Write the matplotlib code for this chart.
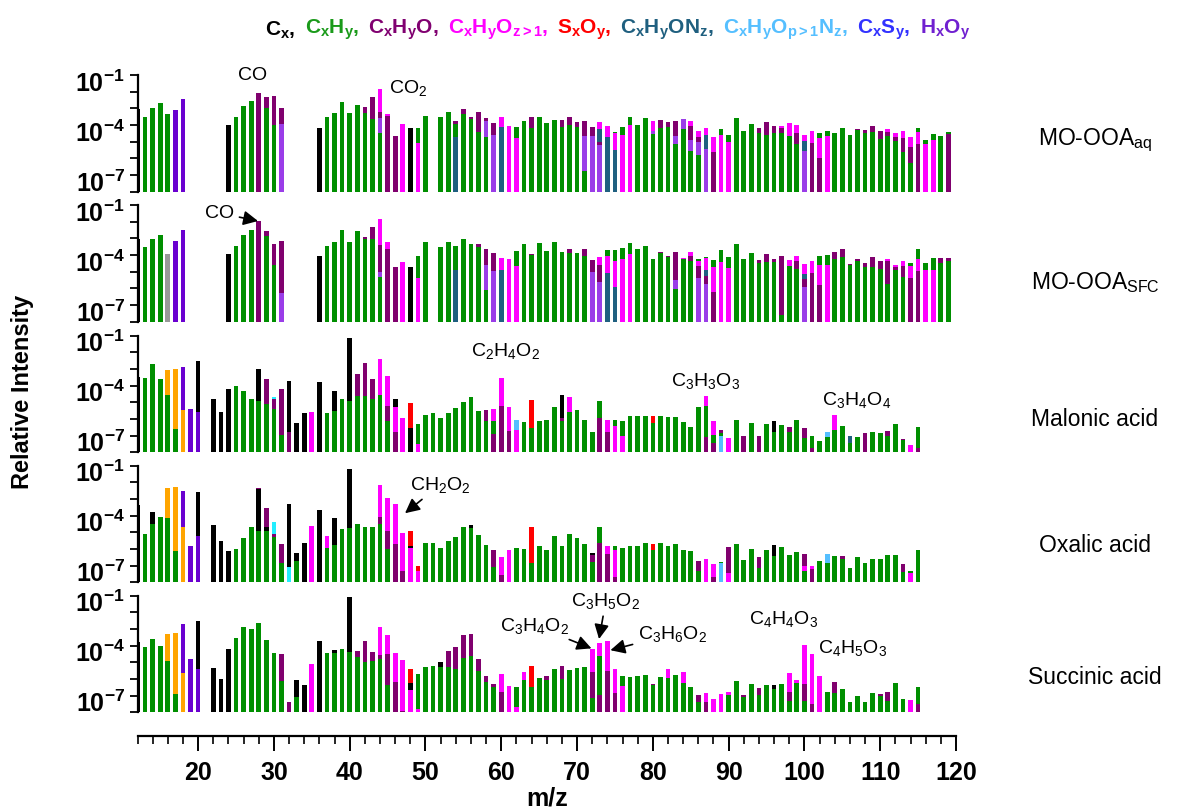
import matplotlib
matplotlib.use("Agg")
import matplotlib.pyplot as plt
import numpy as np

plt.rcParams['font.family'] = ['Liberation Sans', 'DejaVu Sans']
plt.rcParams['mathtext.fontset'] = 'custom'
plt.rcParams['mathtext.rm'] = 'Liberation Sans'
plt.rcParams['mathtext.it'] = 'Liberation Sans:italic'
plt.rcParams['mathtext.bf'] = 'Liberation Sans:bold'

# family colours
fam_colors = {
    'K': '#000000',   # Cx
    'G': '#008f00',   # CxHy
    'P': '#80006e',   # CxHyO
    'M': '#ff00ff',   # CxHyOz>1
    'R': '#ff0000',   # SxOy
    'T': '#1f6080',   # CxHyONz
    'L': '#55bfff',   # CxHyOp>1Nz
    'B': '#3333ff',   # CxSy
    'V': '#6a00d0',   # HxOy
    'U': '#9a3de8',   # (medium purple)
    'O': '#ffa500',   # (orange)
    'Y': '#999999',   # (grey)
    'C': '#22eeff',   # (cyan)
}

legend_items = [
    (r'$\mathbf{C_x,}$', '#000000'),
    (r'$\mathbf{C_xH_y,}$', '#1a9a1a'),
    (r'$\mathbf{C_xH_yO,}$', '#800070'),
    (r'$\mathbf{C_xH_yO_{z>1},}$', '#ff00ff'),
    (r'$\mathbf{S_xO_y,}$', '#ff0000'),
    (r'$\mathbf{C_xH_yON_z,}$', '#1f5f7f'),
    (r'$\mathbf{C_xH_yO_{p>1}N_z,}$', '#55bfff'),
    (r'$\mathbf{C_xS_y,}$', '#3232ff'),
    (r'$\mathbf{H_xO_y}$', '#7020d0'),
]

# log10(relative intensity) per m/z and family
aq = {
    12: dict(K=-2.06), 13: dict(G=-2.54), 14: dict(G=-1.96), 15: dict(G=-1.66),
    16: dict(G=-2.36), 17: dict(V=-2.1), 18: dict(V=-1.44),
    24: dict(K=-3.0), 25: dict(G=-2.5), 26: dict(G=-1.86), 27: dict(G=-1.56),
    28: dict(P=-1.1), 29: dict(P=-1.34, G=-1.96), 30: dict(P=-1.26, G=-3.0),
    31: dict(P=-2.0, U=-2.94),
    36: dict(K=-3.18), 37: dict(G=-2.54), 38: dict(G=-2.3), 39: dict(G=-1.62),
    40: dict(G=-2.3), 41: dict(G=-1.8), 42: dict(P=-1.9, G=-2.3),
    43: dict(P=-1.34, G=-2.64), 44: dict(M=-0.84, P=-2.2, U=-2.6, G=-3.46),
    45: dict(M=-2.34, P=-2.46), 46: dict(P=-3.66), 47: dict(M=-2.94),
    48: dict(K=-3.18), 49: dict(G=-3.18, M=-4.1), 50: dict(G=-2.44),
    52: dict(G=-2.54), 53: dict(G=-2.24), 54: dict(P=-2.74, G=-2.94, T=-3.7),
    55: dict(P=-2.04, G=-2.34), 56: dict(P=-2.54, G=-2.64),
    57: dict(P=-2.24, G=-3.4), 58: dict(P=-2.6, U=-2.76, G=-3.7),
    59: dict(P=-2.9, U=-3.6), 60: dict(M=-2.5, T=-3.1), 61: dict(M=-3.06),
    62: dict(G=-3.1, M=-3.8), 63: dict(G=-2.76), 64: dict(P=-2.54, G=-3.16),
    65: dict(G=-2.54), 66: dict(G=-2.86), 67: dict(G=-2.7),
    68: dict(P=-2.7, G=-3.14), 69: dict(P=-2.54, G=-3.0), 70: dict(P=-2.82, G=-3.14),
    71: dict(P=-2.76, U=-3.64, G=-5.76), 72: dict(P=-3.14, U=-3.64),
    73: dict(M=-2.82, T=-3.24, P=-4.04, U=-4.2), 74: dict(M=-3.06, T=-3.7),
    75: dict(G=-3.42, M=-3.5, T=-4.5), 76: dict(G=-3.12, M=-3.62),
    77: dict(G=-2.54, M=-3.0), 78: dict(G=-3.0), 79: dict(G=-2.6),
    80: dict(M=-2.76, U=-3.36, G=-3.56), 81: dict(P=-2.72, G=-3.16),
    82: dict(P=-2.82, G=-3.12), 83: dict(P=-2.76, U=-3.66, G=-4.14),
    84: dict(U=-2.66, G=-3.24), 85: dict(M=-2.76, P=-3.04, U=-3.9, G=-4.56),
    86: dict(M=-3.34, P=-3.7, U=-4.02, G=-4.8), 87: dict(M=-3.18, T=-3.62, U=-4.46),
    88: dict(M=-3.7, P=-4.6), 89: dict(G=-3.24, M=-3.58), 90: dict(G=-3.58, M=-4.02),
    91: dict(G=-2.6), 92: dict(G=-3.34), 93: dict(G=-2.94),
    94: dict(P=-3.16, G=-3.5), 95: dict(P=-2.82, G=-3.58), 96: dict(P=-3.06, G=-3.5),
    97: dict(M=-3.06, P=-3.18, G=-3.5), 98: dict(M=-2.86, G=-3.64),
    99: dict(M=-3.0, P=-3.46, G=-4.14), 100: dict(M=-3.58, T=-3.98, U=-4.54),
    101: dict(M=-3.36, P=-4.08), 102: dict(G=-3.46, M=-3.78, P=-4.96),
    103: dict(G=-3.34, M=-3.68), 104: dict(G=-3.46), 105: dict(G=-3.18),
    106: dict(G=-3.58), 107: dict(P=-3.24, G=-3.3), 108: dict(P=-3.3, G=-3.5),
    109: dict(P=-3.06, G=-3.42), 110: dict(P=-3.36, G=-3.86),
    111: dict(M=-3.24, P=-3.4, G=-3.66), 112: dict(M=-3.46, P=-3.7, G=-3.98),
    113: dict(M=-3.34, P=-3.8, G=-4.62), 114: dict(M=-3.74, P=-4.34, G=-5.26),
    115: dict(G=-3.18, M=-3.4, P=-4.16), 116: dict(G=-3.92, M=-4.14),
    117: dict(G=-3.54, M=-3.88), 118: dict(G=-3.66), 119: dict(G=-3.42, P=-3.54),
}

sfc = {
    12: dict(K=-2.06), 13: dict(G=-2.54), 14: dict(G=-2.02), 15: dict(G=-1.8),
    16: dict(Y=-2.94), 17: dict(V=-2.14), 18: dict(V=-1.5),
    24: dict(K=-2.94), 25: dict(G=-2.44), 26: dict(G=-1.8), 27: dict(G=-1.5),
    28: dict(P=-0.96), 29: dict(P=-1.56, G=-1.86), 30: dict(P=-2.36, G=-3.58),
    31: dict(P=-2.14, U=-5.26),
    36: dict(K=-3.06), 37: dict(G=-2.44), 38: dict(G=-2.2), 39: dict(G=-1.5),
    40: dict(G=-2.2), 41: dict(G=-1.56), 42: dict(P=-1.94, G=-2.06),
    43: dict(P=-1.34, G=-2.06), 44: dict(M=-0.86, P=-2.4, U=-4.0, G=-4.34),
    45: dict(M=-2.2, P=-2.66), 46: dict(P=-3.7), 47: dict(M=-3.4),
    48: dict(K=-3.74), 49: dict(G=-3.06, M=-4.36), 50: dict(G=-2.2),
    52: dict(G=-2.54), 53: dict(G=-2.2), 54: dict(G=-2.46, T=-3.9),
    55: dict(G=-2.02), 56: dict(G=-2.36), 57: dict(P=-2.34, G=-2.5),
    58: dict(P=-2.66, U=-3.62, G=-5.1), 59: dict(P=-2.86, U=-3.94),
    60: dict(M=-3.16, T=-3.9), 61: dict(M=-3.22), 62: dict(G=-2.76, M=-3.64),
    63: dict(G=-2.36), 64: dict(P=-2.94, G=-3.02), 65: dict(G=-2.3),
    66: dict(G=-2.76), 67: dict(G=-2.24), 68: dict(G=-2.82),
    69: dict(P=-2.66, G=-2.9), 70: dict(G=-2.9), 71: dict(P=-2.66, G=-3.04),
    72: dict(P=-3.3, U=-4.0), 73: dict(M=-3.12, P=-3.62, U=-4.62),
    74: dict(G=-2.72, M=-3.04, T=-4.08), 75: dict(G=-2.72, M=-3.34, T=-4.9),
    76: dict(G=-2.56, M=-3.26), 77: dict(G=-2.26, M=-2.92), 78: dict(G=-2.66),
    79: dict(G=-2.46), 80: dict(G=-3.24), 81: dict(P=-2.82, G=-2.9),
    82: dict(P=-3.06, G=-3.14), 83: dict(P=-2.82, U=-4.5, G=-5.02),
    84: dict(M=-3.18, G=-3.26), 85: dict(M=-2.82, P=-3.04, G=-3.36),
    86: dict(G=-3.24, M=-3.34, P=-3.66, U=-4.38),
    87: dict(G=-3.12, M=-3.18, T=-3.9, P=-4.26, U=-4.74),
    88: dict(G=-3.3, M=-3.7, P=-5.24), 89: dict(G=-2.72, M=-3.42),
    90: dict(G=-3.12, M=-3.8), 91: dict(G=-2.36), 92: dict(G=-3.24),
    93: dict(G=-2.88), 94: dict(P=-3.3, G=-3.5), 95: dict(P=-2.94, G=-3.44),
    96: dict(P=-3.24, G=-3.42), 97: dict(P=-3.06, G=-6.6), 98: dict(M=-3.3, G=-3.64),
    99: dict(M=-3.06, P=-3.34, G=-3.86), 100: dict(M=-3.56, T=-4.14, P=-4.46, U=-4.94),
    101: dict(M=-3.34, P=-4.08), 102: dict(G=-3.06, M=-3.62, P=-4.8),
    103: dict(G=-3.0, M=-3.62), 104: dict(P=-2.82, G=-3.24), 105: dict(P=-2.66, G=-3.12),
    106: dict(P=-3.54, G=-3.62), 107: dict(P=-3.24, G=-3.36), 108: dict(P=-3.48, G=-3.74),
    109: dict(P=-3.12, G=-3.7), 110: dict(P=-3.36, G=-3.86),
    111: dict(M=-3.26, P=-3.36, G=-4.74), 112: dict(M=-3.62, P=-3.7, G=-3.9),
    113: dict(M=-3.36, P=-3.66, G=-4.34), 114: dict(G=-3.48, M=-3.66, P=-4.38),
    115: dict(G=-2.66, M=-3.24, P=-3.96), 116: dict(G=-3.48, M=-3.9),
    117: dict(G=-3.18, M=-3.9), 118: dict(P=-3.18, G=-3.5), 119: dict(P=-3.18, G=-3.36),
}

malonic = {
    12: dict(K=-2.47), 13: dict(G=-2.54), 14: dict(G=-1.71), 15: dict(G=-2.62),
    16: dict(O=-2.03, G=-3.58), 17: dict(O=-1.97, G=-5.59), 18: dict(V=-1.87, O=-4.43),
    19: dict(V=-4.39), 20: dict(K=-1.51, V=-4.59),
    22: dict(K=-3.78), 23: dict(K=-4.55), 24: dict(K=-3.22), 25: dict(G=-3.04),
    26: dict(G=-3.32), 27: dict(G=-3.82), 28: dict(K=-1.97, G=-3.9),
    29: dict(P=-2.62, G=-4.12), 30: dict(C=-3.66, P=-3.78, G=-4.37),
    31: dict(P=-3.2, G=-5.98), 32: dict(K=-2.74, P=-5.75), 33: dict(K=-5.23),
    34: dict(K=-4.61), 35: dict(M=-4.55), 36: dict(K=-2.78), 37: dict(G=-4.61),
    38: dict(K=-3.32, G=-4.49), 39: dict(G=-3.78), 40: dict(K=-0.12, G=-3.94),
    41: dict(P=-2.27, G=-3.64), 42: dict(P=-1.65, G=-3.64), 43: dict(P=-2.62, G=-3.82),
    44: dict(M=-1.41, G=-3.54), 45: dict(M=-2.43, P=-4.19, G=-5.11),
    46: dict(K=-3.78, M=-4.25, P=-5.75), 47: dict(M=-4.95), 48: dict(R=-4.02, K=-5.51),
    49: dict(G=-5.29, M=-6.5), 50: dict(G=-4.73), 51: dict(G=-4.61), 52: dict(G=-4.91),
    53: dict(G=-4.61), 54: dict(G=-4.35), 55: dict(G=-4.0), 56: dict(G=-3.7),
    57: dict(G=-4.49), 58: dict(P=-4.43, G=-5.11), 59: dict(M=-4.39, G=-5.11, P=-5.92),
    60: dict(M=-2.54, P=-4.19), 61: dict(M=-4.25, P=-5.69), 62: dict(L=-5.03, M=-5.63),
    63: dict(G=-5.19), 64: dict(R=-3.86, G=-5.51), 65: dict(G=-5.13), 66: dict(G=-5.03),
    67: dict(G=-4.29), 68: dict(K=-3.54, P=-4.95, G=-5.09), 69: dict(M=-3.7, G=-4.55),
    70: dict(G=-4.43), 71: dict(G=-5.05), 72: dict(G=-5.79), 73: dict(G=-3.94, P=-4.95),
    74: dict(M=-5.03, P=-5.75), 75: dict(G=-5.05, M=-5.43), 76: dict(G=-5.13, M=-6.0),
    77: dict(G=-4.83), 78: dict(G=-4.79), 79: dict(G=-4.79), 80: dict(R=-4.83, G=-5.23),
    81: dict(G=-4.83), 82: dict(G=-4.89), 83: dict(G=-4.89), 84: dict(G=-5.19),
    85: dict(G=-5.45), 86: dict(G=-4.25), 87: dict(M=-3.62, G=-4.19, P=-6.1),
    88: dict(M=-5.13, G=-5.96, P=-6.44), 89: dict(P=-5.63, G=-5.83, L=-6.0),
    90: dict(M=-6.16), 91: dict(G=-5.03), 92: dict(P=-6.0), 93: dict(G=-5.21),
    94: dict(P=-6.0), 95: dict(G=-5.31), 96: dict(K=-5.13, G=-5.79), 97: dict(G=-5.35),
    98: dict(P=-5.47, G=-5.79), 99: dict(G=-5.05), 100: dict(P=-5.51, G=-6.16),
    101: dict(G=-6.0, P=-6.76), 102: dict(G=-6.3), 103: dict(L=-5.79, G=-6.06),
    104: dict(M=-4.73, G=-5.63), 105: dict(G=-5.39), 106: dict(T=-6.0, G=-6.44),
    107: dict(G=-6.06), 108: dict(P=-5.85), 109: dict(G=-5.79), 110: dict(G=-5.83),
    111: dict(P=-5.69, G=-6.0), 112: dict(G=-5.31), 113: dict(P=-6.2, G=-6.24),
    114: dict(M=-6.58), 115: dict(G=-5.45, P=-6.76),
}

oxalic = {
    12: dict(K=-2.37), 13: dict(G=-4.12), 14: dict(K=-2.78, G=-3.48), 15: dict(G=-3.08),
    16: dict(O=-1.33, G=-3.14), 17: dict(O=-1.29, G=-5.09), 18: dict(V=-1.53, O=-3.68),
    19: dict(V=-4.79), 20: dict(K=-1.57, V=-4.19),
    22: dict(K=-3.54), 23: dict(K=-4.53), 24: dict(K=-5.11), 25: dict(G=-5.01),
    26: dict(G=-4.31), 27: dict(G=-3.7), 28: dict(P=-1.32, K=-1.37, G=-3.94),
    29: dict(P=-2.54, K=-3.7, G=-3.94), 30: dict(C=-3.38, P=-4.12, G=-4.25),
    31: dict(P=-4.71, G=-5.83), 32: dict(K=-2.31, C=-6.1), 33: dict(K=-5.23, G=-5.69),
    34: dict(K=-4.61), 35: dict(M=-3.64), 36: dict(K=-2.68), 37: dict(M=-4.19, G=-4.91),
    38: dict(K=-3.14, G=-4.75), 39: dict(G=-3.78), 40: dict(K=-0.2, G=-3.74),
    41: dict(G=-3.48), 42: dict(G=-3.7), 43: dict(G=-3.66),
    44: dict(M=-1.13, P=-3.1, G=-3.48), 45: dict(M=-1.93, P=-3.94, G=-4.99),
    46: dict(M=-2.27, P=-4.67), 47: dict(M=-4.04, P=-6.32),
    48: dict(R=-3.9, K=-4.79, M=-4.95), 49: dict(R=-6.0, M=-6.3),
    50: dict(G=-4.65), 51: dict(G=-4.61), 52: dict(G=-4.91), 53: dict(G=-4.49),
    54: dict(G=-4.25), 55: dict(G=-3.7), 56: dict(K=-3.54, G=-3.74), 57: dict(G=-4.14),
    58: dict(G=-4.73), 59: dict(P=-5.03, G=-6.06), 60: dict(M=-5.45, P=-6.54),
    61: dict(M=-5.07), 62: dict(G=-4.91), 63: dict(G=-5.01), 64: dict(R=-3.7, G=-5.83),
    65: dict(G=-4.83), 66: dict(G=-5.03), 67: dict(G=-4.19), 68: dict(G=-4.83),
    69: dict(G=-4.12), 70: dict(G=-4.31), 71: dict(G=-4.71),
    72: dict(K=-5.23, P=-5.33, G=-5.75), 73: dict(G=-3.7, P=-4.65),
    74: dict(M=-4.83, P=-5.29), 75: dict(G=-4.83, M=-5.03, P=-6.68), 76: dict(G=-4.95),
    77: dict(G=-4.79), 78: dict(G=-4.83), 79: dict(G=-4.61), 80: dict(R=-4.71, G=-5.05),
    81: dict(G=-4.61), 82: dict(G=-4.79), 83: dict(G=-4.71), 84: dict(G=-5.05),
    85: dict(G=-5.11), 86: dict(P=-5.69, G=-6.3), 87: dict(M=-5.57),
    88: dict(M=-5.88, P=-6.68), 89: dict(G=-5.75, L=-5.85), 90: dict(P=-4.89, M=-6.44),
    91: dict(G=-4.71), 92: dict(G=-5.63), 93: dict(G=-5.01), 94: dict(P=-5.45, G=-6.16),
    95: dict(G=-5.05), 96: dict(K=-4.77, G=-5.39), 97: dict(G=-4.89), 98: dict(G=-5.33),
    99: dict(G=-5.19), 100: dict(P=-5.29, M=-6.0, G=-6.3), 101: dict(M=-6.0, P=-6.2),
    102: dict(G=-5.69), 103: dict(L=-5.31, G=-5.83), 104: dict(G=-5.41),
    105: dict(P=-5.41, G=-5.59), 106: dict(G=-6.12), 107: dict(G=-5.45),
    108: dict(G=-5.81), 109: dict(G=-5.59), 110: dict(G=-5.59), 111: dict(G=-5.33),
    112: dict(G=-5.33), 113: dict(P=-5.88, G=-6.4), 114: dict(G=-6.34, M=-6.44),
    115: dict(G=-5.05),
}

succinic = {
    12: dict(K=-2.78), 13: dict(G=-3.08), 14: dict(G=-2.62), 15: dict(G=-3.02),
    16: dict(O=-2.31, G=-3.94), 17: dict(O=-2.21, G=-5.92), 18: dict(V=-1.69, O=-4.63),
    19: dict(V=-3.82), 20: dict(K=-1.51, V=-4.37),
    22: dict(K=-4.31), 23: dict(K=-4.99), 24: dict(K=-3.18), 25: dict(G=-2.54),
    26: dict(G=-1.87), 27: dict(G=-1.97), 28: dict(G=-1.65), 29: dict(G=-2.68),
    30: dict(G=-3.42), 31: dict(P=-3.48, G=-5.11), 32: dict(P=-6.4),
    33: dict(K=-5.05, G=-6.06), 34: dict(K=-5.33), 35: dict(M=-4.12), 36: dict(K=-2.74),
    37: dict(G=-3.42), 38: dict(K=-3.28, G=-3.44), 39: dict(G=-3.2),
    40: dict(K=-0.06, G=-3.36), 41: dict(P=-3.32, G=-3.68), 42: dict(P=-2.74, G=-3.98),
    43: dict(P=-3.38, G=-3.92), 44: dict(M=-1.87, P=-3.54, G=-3.8),
    45: dict(M=-2.37, P=-3.52, G=-5.33), 46: dict(M=-3.42, P=-5.15),
    47: dict(M=-3.88, P=-6.9), 48: dict(R=-4.37, K=-5.23, M=-5.63),
    49: dict(G=-4.71, M=-6.8), 50: dict(G=-4.25), 51: dict(G=-4.19),
    52: dict(K=-4.0, G=-4.25), 53: dict(P=-3.32, G=-4.29), 54: dict(P=-3.08, G=-4.39),
    55: dict(P=-2.37, G=-3.74), 56: dict(P=-2.27, G=-3.64), 57: dict(P=-3.78, G=-4.49),
    58: dict(P=-4.79, G=-5.15), 59: dict(P=-5.29, G=-5.45), 60: dict(M=-4.67, P=-5.75),
    61: dict(M=-5.39), 62: dict(G=-5.45, M=-6.7), 63: dict(M=-4.55, G=-5.03),
    64: dict(R=-4.19, G=-5.45), 65: dict(G=-4.91), 66: dict(P=-4.83, G=-5.03),
    67: dict(G=-4.37), 68: dict(P=-4.19, G=-4.99), 69: dict(G=-4.43), 70: dict(G=-4.31),
    71: dict(G=-4.25), 72: dict(M=-3.22, P=-4.59, G=-6.16),
    73: dict(M=-2.82, G=-3.64, P=-5.94), 74: dict(M=-2.74, P=-4.49),
    75: dict(M=-4.37, P=-5.85), 76: dict(G=-4.83, M=-5.39), 77: dict(G=-4.85),
    78: dict(G=-4.83), 79: dict(G=-4.77), 80: dict(P=-5.29, G=-5.35), 81: dict(G=-4.89),
    82: dict(M=-4.39, G=-4.93), 83: dict(G=-4.73), 84: dict(M=-4.55, G=-5.23),
    85: dict(G=-5.45), 86: dict(P=-5.96, G=-6.4), 87: dict(M=-5.83, P=-6.4),
    88: dict(M=-6.2), 89: dict(M=-5.9), 90: dict(M=-5.75, G=-5.96), 91: dict(G=-5.13),
    92: dict(P=-5.96, G=-6.1), 93: dict(G=-5.31), 94: dict(P=-5.53, G=-5.96),
    95: dict(G=-5.33), 96: dict(K=-5.33, G=-5.59), 97: dict(G=-5.31),
    98: dict(M=-4.63, P=-5.75, G=-6.3), 99: dict(M=-5.03, G=-5.23),
    100: dict(M=-2.98, P=-5.29, G=-6.32), 101: dict(M=-3.5, P=-6.5), 102: dict(M=-4.79),
    103: dict(G=-5.79), 104: dict(P=-5.19, G=-5.83), 105: dict(G=-5.59), 106: dict(G=-6.4),
    107: dict(G=-6.0), 108: dict(G=-6.4), 109: dict(G=-5.83), 110: dict(P=-5.9, G=-6.0),
    111: dict(P=-5.75, G=-6.3), 112: dict(G=-5.23), 113: dict(G=-6.22), 114: dict(M=-6.26),
    115: dict(G=-5.47, P=-6.5),
}

panels = [aq, sfc, malonic, oxalic, succinic]
panel_names = [r'MO-OOA$_\mathregular{aq}$', r'MO-OOA$_\mathregular{SFC}$',
               'Malonic acid', 'Oxalic acid', 'Succinic acid']

# annotations: (panel, text, text xy, arrow tip xy or None) in (m/z, log10 I)
notes = [
    (0, 'CO', (27.2, 0.0), None),
    (0, r'CO$_2$', (47.7, -0.78), None),
    (1, 'CO', (22.8, -0.48), (27.9, -0.96)),
    (2, r'C$_2$H$_4$O$_2$', (60.5, -0.9), None),
    (2, r'C$_3$H$_3$O$_3$', (86.9, -2.7), None),
    (2, r'C$_3$H$_4$O$_4$', (106.9, -3.88), None),
    (3, r'CH$_2$O$_2$', (51.9, -1.15), (47.3, -2.85)),
    (4, r'C$_3$H$_4$O$_2$', (64.4, -1.8), (71.9, -3.16)),
    (4, r'C$_3$H$_5$O$_2$', (73.8, -0.3), (72.9, -2.6)),
    (4, r'C$_3$H$_6$O$_2$', (82.6, -2.3), (74.4, -3.27)),
    (4, r'C$_4$H$_4$O$_3$', (97.3, -1.4), None),
    (4, r'C$_4$H$_5$O$_3$', (106.3, -3.15), None),
]

W, H = 1190, 810
fig = plt.figure(figsize=(W / 100, H / 100), dpi=100)

left = 137.5 / W
width = (956 - 137.5) / W
tops = [75, 205, 335.7, 465.7, 595.7]
ph = 116.7
label_y = [140, 283, 420, 545, 677]

yt = [10.0 ** -k for k in range(8)]
ytl = ['' for _ in yt]
ytl[1] = r'$\mathbf{10^{-1}}$'
ytl[4] = r'$\mathbf{10^{-4}}$'
ytl[7] = r'$\mathbf{10^{-7}}$'

axes = []
for i, data in enumerate(panels):
    ax = fig.add_axes([left, 1 - (tops[i] + ph) / H, width, ph / H])
    axes.append(ax)
    xs, hs, cs = [], [], []
    for mz, fams in data.items():
        for code, lv in fams.items():
            xs.append(mz)
            hs.append(lv)
            cs.append(fam_colors[code])
    # tallest family first so the smaller ones sit in front at the bottom
    order = np.argsort(-np.array(hs), kind='stable')
    xs = np.array(xs)[order]
    vals = np.power(10.0, np.array(hs)[order])
    cs = [cs[k] for k in order]
    ax.bar(xs, vals - 1e-7, bottom=1e-7, width=0.62, color=cs, linewidth=0)

    ax.set_yscale('log')
    ax.set_ylim(1e-7, 1.0)
    ax.set_xlim(12, 120)
    ax.set_yticks(yt)
    ax.set_yticklabels(ytl)
    ax.yaxis.set_minor_locator(matplotlib.ticker.NullLocator())
    ax.tick_params(axis='y', direction='out', length=6, width=1.3, labelsize=18, pad=3)
    for lab in ax.get_yticklabels():
        lab.set_va('baseline')
    for s in ['top', 'right', 'bottom']:
        ax.spines[s].set_visible(False)
    ax.spines['left'].set_linewidth(1.6)
    ax.tick_params(axis='x', which='both', bottom=False, labelbottom=False)

    fig.text(1095 / W, 1 - label_y[i] / H, panel_names[i], fontsize=16.5,
             ha='center', va='center')

# bottom m/z axis
axb = axes[-1]
axb.spines['bottom'].set_visible(True)
axb.spines['bottom'].set_position(('outward', 17))
axb.spines['bottom'].set_linewidth(1.6)
axb.set_xticks(np.arange(20, 121, 10))
axb.set_xticks(np.arange(12, 121, 2), minor=True)
axb.tick_params(axis='x', which='major', bottom=True, labelbottom=True,
                direction='out', length=11, width=1.4, pad=7)
axb.tick_params(axis='x', which='minor', bottom=True, direction='out', length=6, width=1.2)
for lab in axb.get_xticklabels():
    lab.set_fontweight('bold')
    lab.set_fontsize(18)
    lab.set_family(['Liberation Sans Narrow', 'Liberation Sans'])
axb.set_xlabel('m/z', fontsize=18, fontweight='bold', labelpad=1)

fig.text(23 / W, 1 - 392 / H, 'Relative Intensity', rotation=90, fontsize=17,
         fontweight='bold', ha='center', va='center')

for pi, txt, xy, tip in notes:
    ax = axes[pi]
    tx, ty = xy
    if tip is None:
        ax.text(tx, 10 ** ty, txt, fontsize=14, ha='center', va='center', clip_on=False)
    else:
        ax.annotate(txt, xy=(tip[0], 10 ** tip[1]), xytext=(tx, 10 ** ty),
                    fontsize=14, ha='center', va='center', annotation_clip=False,
                    arrowprops=dict(arrowstyle='-|>', color='black', lw=1.2,
                                    mutation_scale=22, shrinkA=2, shrinkB=0))

# coloured legend row
renderer = fig.canvas.get_renderer()
texts = []
for lab, col in legend_items:
    t = fig.text(0, 1 - 30 / H, lab, color=col, fontsize=15, ha='left', va='center')
    texts.append(t)
widths = [t.get_window_extent(renderer).width for t in texts]
gap = (970 - 265 - sum(widths)) / (len(widths) - 1)
x = 265
for t, w in zip(texts, widths):
    t.set_x(x / W)
    x += w + gap

fig.savefig('out.png', dpi=100)
